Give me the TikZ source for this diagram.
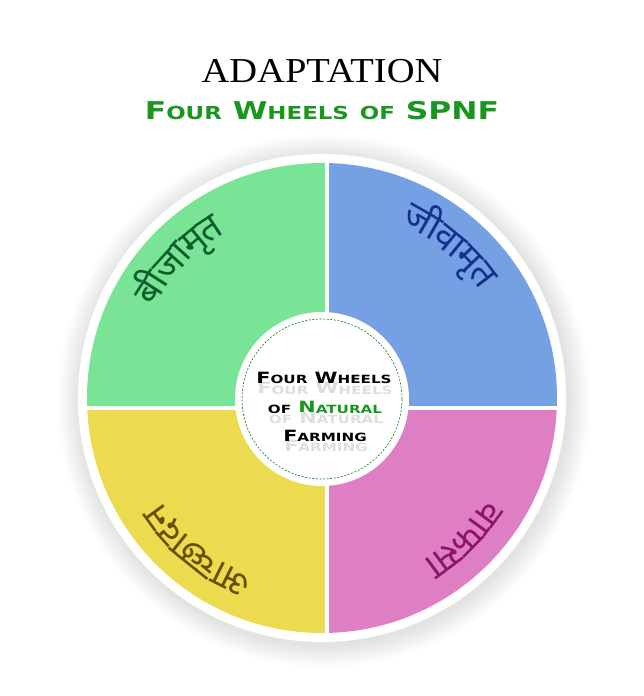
\documentclass[tikz,border=0pt]{standalone}
\usepackage{fontspec}
\usepackage{graphicx}
\usepackage{tikz}
\setmainfont{Liberation Serif}
\newfontfamily\capsfont{DejaVu Sans}
\newfontfamily\devafont[Script=Devanagari]{Noto Sans}

\definecolor{quadgreen}{RGB}{121,228,150}
\definecolor{quadblue}{RGB}{118,160,228}
\definecolor{quadyellow}{RGB}{236,219,78}
\definecolor{quadpink}{RGB}{221,127,194}
\definecolor{spnfgreen}{RGB}{24,150,30}
\definecolor{bijtext}{RGB}{12,95,45}
\definecolor{jivtext}{RGB}{20,50,140}
\definecolor{achtext}{RGB}{105,78,0}
\definecolor{waptext}{RGB}{140,20,110}

% fake copperplate small caps
\newcommand\fsc[2]{#1\scalebox{0.73}{\MakeUppercase{#2}}}
\newcommand\arcfont{\devafont\fontsize{37}{44}\selectfont}
\def\arcrad{191}
\newlength\glyphw
% widths of the clusters, measured before the picture
\newcommand\keepwidth[1]{%
  \settowidth\glyphw{\arcfont #1}%
  \expandafter\xdef\csname gw:#1\endcsname{\the\glyphw}}
\foreach \cl in {बी,जा,मृ,त,जी,वा,आ,च्छा,द,न,फ,सा}{\expandafter\keepwidth\expandafter{\cl}}
% clusters laid clockwise round the wheel, tops outward
\newcommand\arclabel[4]{%
  \gdef\arcsum{0}%
  \foreach \cl in {#4}{%
    \pgfmathsetmacro\arcnew{\arcsum+\csname gw:\cl\endcsname}%
    \global\let\arcsum\arcnew}%
  \gdef\arcrun{0}%
  \foreach \cl [count=\ci] in {#4}{%
    \pgfmathsetmacro\arcw{\csname gw:\cl\endcsname}%
    \pgfmathsetmacro\arcang{#1+(\arcsum/2-\arcrun-\arcw/2)/(\arcrad+14)*180/pi}%
    \node[arcglyph, text=#2, rotate=\arcang-90] (#3-\ci) at (\arcang:\arcrad) {\cl};%
    \pgfmathsetmacro\arcnew{\arcrun+\arcw}%
    \global\let\arcrun\arcnew}%
}

\begin{document}
\begin{tikzpicture}[
  x=1pt, y=1pt,
  arcglyph/.style={font=\arcfont, anchor=base, inner sep=0pt},
  heading/.style={anchor=base, inner sep=0pt},
  hubline/.style={anchor=base, inner sep=0pt, xscale=1.34,
                  font=\capsfont\bfseries\fontsize{15.5}{18}\selectfont},
  ghost/.style={hubline, text=black!13}
]
\useasboundingbox (-322,-298) rectangle (322,398);

% shadow and white rim
\foreach \s in {1,...,14}
  \fill[black, opacity=0.007] (2,-3) circle ({244+\s*1.6});
\fill[white] (0,0) circle (244);

% the four quadrants
\begin{scope}
  \clip (0,0) circle (235);
  \fill[quadgreen] (-240,-10.5) rectangle (5,240);
  \fill[quadblue] (5,-10.5) rectangle (240,240);
  \fill[quadyellow] (-240,-240) rectangle (5,-10.5);
  \fill[quadpink] (5,-240) rectangle (240,-10.5);
\end{scope}
\draw[white, line width=4] (5,-238) -- (5,238);
\draw[white, line width=4] (-238,-10.5) -- (238,-10.5);

% hub
\fill[white] (0,-1) circle (87);
\draw[spnfgreen!80!black, line width=0.6, dash pattern=on 2pt off 1.6pt] (0,-1) circle (80);

\node[ghost] (ghosttop) at (3,4) {\fsc{F}{our} \fsc{W}{heels}};
\node[ghost] (ghostmid) at (4,-25) {\fsc{}{of} \fsc{N}{atural}};
\node[ghost] (ghostbot) at (4,-53) {\fsc{F}{arming}};
\node[hubline] (hubtop) at (2,14) {\fsc{F}{our} \fsc{W}{heels}};
\node[hubline] (hubmid) at (3,-15)
  {\fsc{}{of} \textcolor{spnfgreen}{\fsc{N}{atural}}};
\node[hubline] (hubbot) at (3,-43) {\fsc{F}{arming}};

% wheel names
\arclabel{136}{bijtext}{bij}{बी,जा,मृ,त}
\arclabel{50}{jivtext}{jiv}{जी,वा,मृ,त}
\arclabel{231}{achtext}{ach}{आ,च्छा,द,न}
\arclabel{315}{waptext}{wap}{वा,फ,सा}

% headings
\node[heading, xscale=1.1, font=\fontsize{35}{40}\selectfont] (title) at (0,315)
  {ADAPTATION};
\node[heading, xscale=1.28, text=spnfgreen,
      font=\capsfont\bfseries\fontsize{24.5}{28}\selectfont] (subtitle) at (0,278)
  {\fsc{F}{our} \fsc{W}{heels} \fsc{}{of} SPNF};
\end{tikzpicture}
\end{document}
